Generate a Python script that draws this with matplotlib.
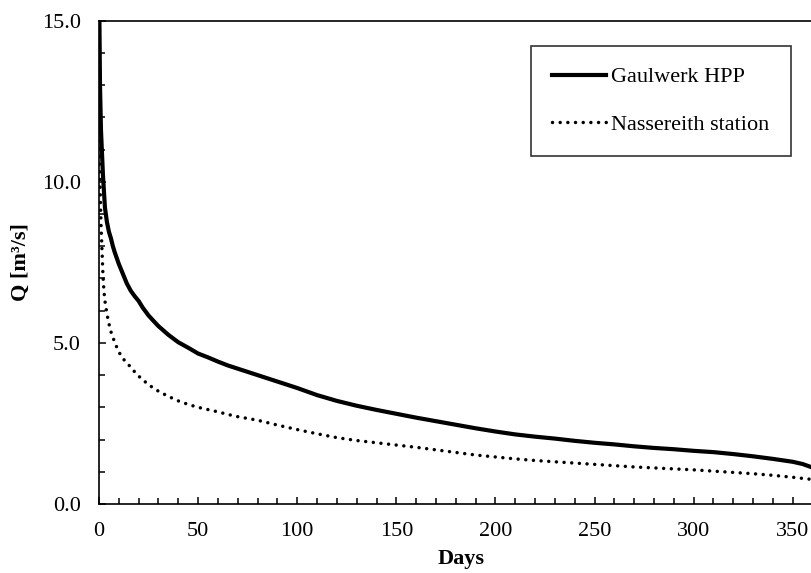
import matplotlib
matplotlib.use('Agg')
import matplotlib.pyplot as plt
from matplotlib.ticker import MultipleLocator, FormatStrFormatter

plt.rcParams['font.family'] = ['Liberation Serif', 'DejaVu Serif']

# flow duration curves (days exceeded vs discharge)
gaulwerk_days = [0, 0.5, 1, 1.5, 2, 3, 4, 5, 6, 7, 8, 10, 12, 14, 16, 18, 20,
                 22, 25, 28, 30, 35, 40, 45, 50, 55, 60, 65, 70, 80, 90, 100,
                 110, 120, 130, 140, 150, 160, 170, 180, 190, 200, 210, 220,
                 230, 240, 250, 260, 270, 280, 290, 300, 310, 320, 330, 340,
                 350, 355, 360, 365]
gaulwerk_q = [16.5, 13.0, 11.6, 10.9, 10.2, 9.2, 8.75, 8.45, 8.25, 8.0, 7.8,
              7.45, 7.15, 6.85, 6.62, 6.45, 6.3, 6.1, 5.85, 5.65, 5.52, 5.25,
              5.02, 4.85, 4.67, 4.55, 4.42, 4.3, 4.2, 4.0, 3.8, 3.6, 3.38,
              3.2, 3.05, 2.92, 2.8, 2.68, 2.57, 2.46, 2.35, 2.25, 2.16, 2.09,
              2.03, 1.96, 1.90, 1.85, 1.79, 1.74, 1.70, 1.65, 1.61, 1.55, 1.48,
              1.40, 1.31, 1.24, 1.13, 1.02]

nassereith_days = [0, 0.5, 1, 1.5, 2, 2.5, 3, 4, 5, 6, 7, 8, 10, 12, 14, 16,
                   18, 20, 25, 30, 35, 40, 45, 50, 55, 60, 65, 70, 80, 90, 100,
                   110, 120, 130, 140, 150, 160, 170, 180, 190, 200, 210, 220,
                   230, 240, 250, 260, 270, 280, 290, 300, 310, 320, 330, 340,
                   350, 360, 365]
nassereith_q = [11.5, 10.0, 8.7, 7.9, 7.1, 6.6, 6.3, 5.9, 5.6, 5.35, 5.18,
                5.0, 4.72, 4.52, 4.38, 4.25, 4.1, 3.97, 3.7, 3.5, 3.34, 3.2,
                3.09, 3.0, 2.93, 2.86, 2.78, 2.71, 2.6, 2.45, 2.31, 2.18, 2.06,
                1.97, 1.9, 1.83, 1.76, 1.68, 1.6, 1.52, 1.46, 1.4, 1.35, 1.31,
                1.27, 1.23, 1.19, 1.15, 1.12, 1.09, 1.06, 1.02, 0.98, 0.94,
                0.89, 0.83, 0.76, 0.70]

fig = plt.figure(figsize=(8.12, 5.73), dpi=100)
ax = fig.add_axes([99 / 812, 69 / 573, 723.5 / 812, 483.3 / 573])

ax.plot(gaulwerk_days, gaulwerk_q, color='black', lw=3.0,
        solid_joinstyle='round', label='Gaulwerk HPP')
ax.plot(nassereith_days, nassereith_q, color='black', lw=2.5,
        linestyle=(0, (0.01, 2.2)), dash_capstyle='round',
        label='Nassereith station')

ax.set_xlim(0, 365)
ax.set_ylim(0, 15)
ax.xaxis.set_major_locator(MultipleLocator(50))
ax.xaxis.set_minor_locator(MultipleLocator(10))
ax.yaxis.set_major_locator(MultipleLocator(5))
ax.yaxis.set_minor_locator(MultipleLocator(1))
ax.yaxis.set_major_formatter(FormatStrFormatter('%.1f'))
ax.tick_params(which='both', direction='in', width=1.1, labelsize=16, pad=13)
ax.tick_params(which='major', length=5)
ax.tick_params(which='minor', length=4)
for s in ax.spines.values():
    s.set_linewidth(1.2)

ax.set_xlabel('Days', fontsize=16, fontweight='bold', labelpad=6)
ax.set_ylabel('Q [m³/s]', fontsize=16, fontweight='bold', labelpad=8)

leg = ax.legend(loc='upper right', bbox_to_anchor=(790.7 / 812, (573 - 45.7) / 573),
                bbox_transform=fig.transFigure, fontsize=16, frameon=True,
                fancybox=False, edgecolor='black', handlelength=2.45,
                handletextpad=0.22, labelspacing=1.2, borderpad=0.95,
                borderaxespad=0)
leg.get_frame().set_linewidth(1.2)

fig.savefig('out.png', dpi=100)
